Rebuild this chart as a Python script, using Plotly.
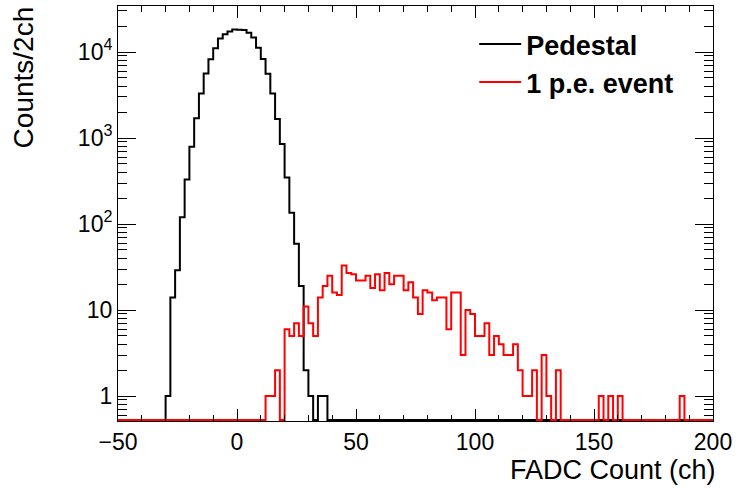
import numpy as np
import plotly.graph_objects as go

# ---------------- data ----------------
bin_width = 2
x_min, x_max = -50, 200

# Pedestal histogram: counts per 2ch bin, first bin starts at ped_start
ped_start = -30
ped_counts = [1, 14, 29, 120, 330, 790, 1700, 3290, 5610, 8230,
              11040, 14400, 16040, 17300, 18300, 18200, 18000, 16800, 14700, 11200,
              8300, 5600, 3290, 1660, 850, 348, 135, 59, 19, 2,
              1, 0, 1, 1]

# 1 p.e. event histogram: counts per 2ch bin, first bin starts at pe_start
pe_start = 12
pe_counts = [1, 1, 2, 0, 6, 5, 7, 5, 11, 7,
             5, 14, 19, 25, 16, 15, 33, 27, 26, 22,
             22, 25, 18, 26, 17, 27, 20, 25, 25, 17,
             21, 14, 9, 17, 16, 13, 14, 14, 6, 16,
             16, 3, 10, 9, 5, 5, 7, 3, 5, 4,
             3, 3, 4, 2, 1, 1, 2, 0, 3, 1,
             0, 2, 0, 0, 0, 0, 0, 0, 0, 0,
             1, 0, 1, 0, 1, 0, 0, 0, 0, 0,
             0, 0, 0, 0, 0, 0, 0, 1]

x_tick_vals = [-50, 0, 50, 100, 150, 200]
x_tick_text = ["\u221250", "0", "50", "100", "150", "200"]
y_tick_vals = [1, 10, 100, 1000, 10000]
y_tick_text = ["1", "10", "10<sup>2</sup>", "10<sup>3</sup>", "10<sup>4</sup>"]

series_names = ["Pedestal", "1 p.e. event"]
series_colors = ["#000000", "#ff0000"]

x_title = "FADC Count (ch)"
y_title = "Counts/2ch"

# ---------------- build ----------------
y_range = [-0.29, 4.535]
edges = np.arange(x_min, x_max + bin_width, bin_width)
nbins = len(edges) - 1
floor_val = 10 ** (y_range[0] + 0.012)


def full_hist(start, counts):
    arr = np.zeros(nbins)
    i0 = (start - x_min) // bin_width
    arr[i0:i0 + len(counts)] = counts
    disp = np.where(arr > 0, arr, floor_val)
    return np.append(disp, disp[-1])


fig = go.Figure()
for name, color, start, counts in [
    (series_names[0], series_colors[0], ped_start, ped_counts),
    (series_names[1], series_colors[1], pe_start, pe_counts),
]:
    fig.add_trace(go.Scatter(
        x=edges, y=full_hist(start, counts), mode="lines",
        line=dict(shape="hv", color=color, width=2),
        name=name,
    ))

font_family = "Liberation Sans, Arial, Helvetica, sans-serif"

x_minor = [v for v in range(-40, 200, 10) if v % 50 != 0]
y_minor = [m * 10 ** e for e in range(-1, 5) for m in range(2, 10)
           if 10 ** y_range[0] <= m * 10 ** e <= 10 ** y_range[1]]

fig.update_layout(
    width=737, height=489,
    margin=dict(l=118, r=21, t=5, b=68),
    paper_bgcolor="white", plot_bgcolor="white",
    font=dict(family=font_family, size=23, color="black"),
    showlegend=True,
    legend=dict(
        x=(476 - 118) / 598, y=1 - (19 - 5) / 416,
        xanchor="left", yanchor="top",
        bgcolor="rgba(0,0,0,0)",
        font=dict(family=font_family, size=27, color="black", weight="bold"),
        itemwidth=42,
        tracegroupgap=0,
    ),
    xaxis=dict(
        range=[x_min, x_max], showgrid=False, zeroline=False,
        showline=True, linecolor="black", linewidth=1, mirror="ticks",
        ticks="inside", ticklen=12, tickwidth=1, tickcolor="black",
        tickmode="array", tickvals=x_tick_vals, ticktext=x_tick_text,
        minor=dict(tickmode="array", tickvals=x_minor, ticks="inside",
                   ticklen=6, tickwidth=1, tickcolor="black", showgrid=False),
        tickfont=dict(size=23),
    ),
    yaxis=dict(
        type="log", range=y_range, showgrid=False, zeroline=False,
        showline=True, linecolor="black", linewidth=1, mirror="ticks",
        ticks="inside", ticklen=18, tickwidth=1, tickcolor="black",
        tickmode="array", tickvals=y_tick_vals, ticktext=y_tick_text,
        minor=dict(tickmode="array", tickvals=y_minor, ticks="inside",
                   ticklen=9, tickwidth=1, tickcolor="black", showgrid=False),
        tickfont=dict(size=23),
    ),
    annotations=[
        dict(text=y_title, xref="paper", yref="paper",
             x=(23 - 118) / 598, y=1.005, xanchor="center", yanchor="top",
             textangle=-90, showarrow=False,
             font=dict(family=font_family, size=28, color="black")),
        dict(text=x_title, xref="paper", yref="paper",
             x=(721 - 118) / 598, y=(421 - 470) / 416,
             xanchor="right", yanchor="middle", showarrow=False,
             font=dict(family=font_family, size=27, color="black")),
    ],
)

fig.write_html("out.html")
